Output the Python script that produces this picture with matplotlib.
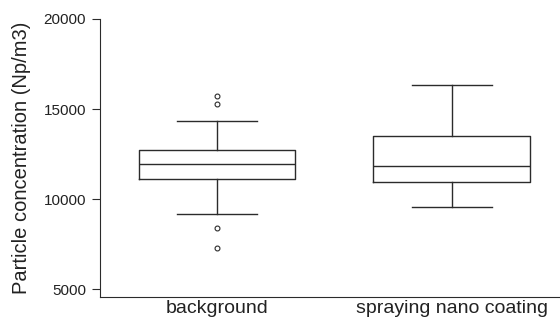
import matplotlib.pyplot as plt

# valeurs
categories = ['background', 'spraying nano coating']
whislo = [9180, 9540]
q1 = [11110, 10960]
med = [11930, 11850]
q3 = [12740, 13520]
whishi = [14350, 16330]
fliers = [[15740, 15280, 8370, 7260], []]

plt.rcParams['font.family'] = ['Liberation Sans', 'DejaVu Sans']

fig = plt.figure(figsize=(5.6, 3.21), dpi=100)
ax = fig.add_axes([100 / 560, 24 / 321, 460 / 560, 278 / 321])

stats = []
for i in range(len(categories)):
    stats.append({'label': categories[i], 'whislo': whislo[i], 'q1': q1[i],
                  'med': med[i], 'q3': q3[i], 'whishi': whishi[i],
                  'fliers': fliers[i]})

col = '#2b2b2b'
ax.bxp(stats, positions=[1, 2], widths=0.668, showfliers=True,
       boxprops=dict(color=col, linewidth=1),
       medianprops=dict(color=col, linewidth=1),
       whiskerprops=dict(color=col, linewidth=1),
       capprops=dict(color=col, linewidth=1),
       capwidths=0.34,
       flierprops=dict(marker='o', markersize=3.5, markerfacecolor='none',
                       markeredgecolor=col, markeredgewidth=0.8))

ax.set_xlim(0.502, 2.46)
ax.set_ylim(4556, 20000)
ax.set_yticks([5000, 10000, 15000, 20000])
ax.spines['top'].set_visible(False)
ax.spines['right'].set_visible(False)
ax.spines['left'].set_color(col)
ax.spines['bottom'].set_color(col)
ax.tick_params(axis='y', labelsize=11, length=6, color=col, labelcolor='#222222', pad=4)
ax.tick_params(axis='x', labelsize=14, length=0, labelcolor='#222222', pad=2)
ax.set_ylabel('Particle concentration (Np/m3)', fontsize=14.5, color='#222222', labelpad=9)

fig.savefig('out.png', dpi=100)
